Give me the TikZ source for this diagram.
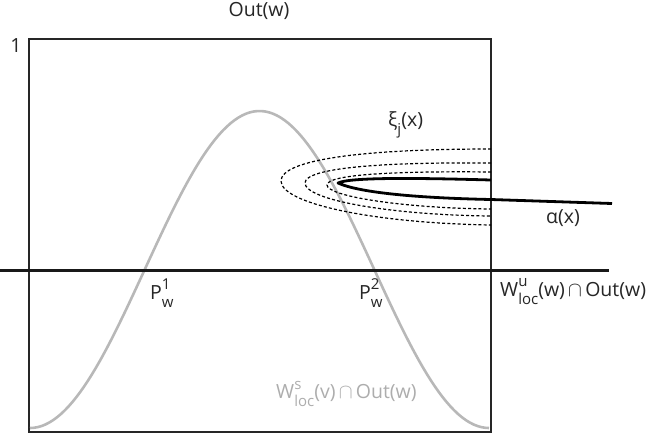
\documentclass[tikz,border=0pt]{standalone}
\usepackage{fontspec}
\setmainfont{Open Sans}
\newfontfamily\grk{Open Sans}
\newcommand\SupSub[2]{\rlap{\raisebox{0.5em}{\fontsize{15}{15}\selectfont #1}}\raisebox{-0.42em}{\fontsize{15}{15}\selectfont #2}}
\begin{document}
\begin{tikzpicture}[x=1pt,y=-1pt,
  lbl/.style={inner sep=0pt,text=black!85,font=\fontsize{19.5}{22}\selectfont},
  frame/.style={draw=black!85,line width=1.3pt},
  axis/.style={draw=black!90,line width=2.6pt},
  gcurve/.style={draw=black!28,line width=2.6pt},
  dcurve/.style={draw=black,line width=1.2pt,dash pattern=on 3pt off 2.2pt},
  scurve/.style={draw=black,line width=2.8pt}]
\useasboundingbox (0,0) rectangle (652,440);
% frame
\draw[frame] (29,39) rectangle (491,432);
% gray stable manifold
\draw[gcurve] plot[domain=30:489,samples=120] (\x,{428-317*(1-cos(0.7843*(\x-30)))/2});
% horizontal axis
\coordinate (hl) at (0,270.5);
\coordinate (hr) at (609,270.5);
\draw[axis] (hl) -- (hr);
% dashed hairpins
\draw[dcurve] (491,149) .. controls (360,149) and (281,160) .. (281,181) .. controls (281,203) and (370,223) .. (491,225);
\draw[dcurve] (491,163) .. controls (380,162) and (305,168) .. (305,183) .. controls (305,200) and (390,215) .. (491,216);
\draw[dcurve] (491,172) .. controls (400,171) and (327,174) .. (327,185) .. controls (327,196) and (400,208) .. (491,209);
% solid alpha curve
\coordinate (aend) at (612,203.5);
\draw[scurve,line join=round] (491,180) .. controls (420,178) and (350,177) .. (338,183) .. controls (360,193) and (420,198) .. (491,199.5) -- (aend);
% labels
\node[lbl] (out) at (259,11) {Out(w)};
\node[lbl] (one) at (16,46) {1};
\node[lbl,anchor=west] (xi) at (388,125) {{\grk ξ}\raisebox{-0.38em}{\fontsize{15}{15}\selectfont j}(x)};
\node[lbl,anchor=west] (al) at (546,218) {{\grk α}(x)};
\node[lbl,anchor=west] (p1) at (150,293) {P\SupSub{1}{w}};
\node[lbl,anchor=west] (p2) at (359,293) {P\SupSub{2}{w}};
\node[lbl,anchor=west] (wu) at (500,292) {W\SupSub{u}{loc}(w)\,$\cap$\,Out(w)};
\node[lbl,anchor=west,text=black!32] (ws) at (276,394) {W\SupSub{s}{loc}(v)\,$\cap$\,Out(w)};
\end{tikzpicture}
\end{document}
